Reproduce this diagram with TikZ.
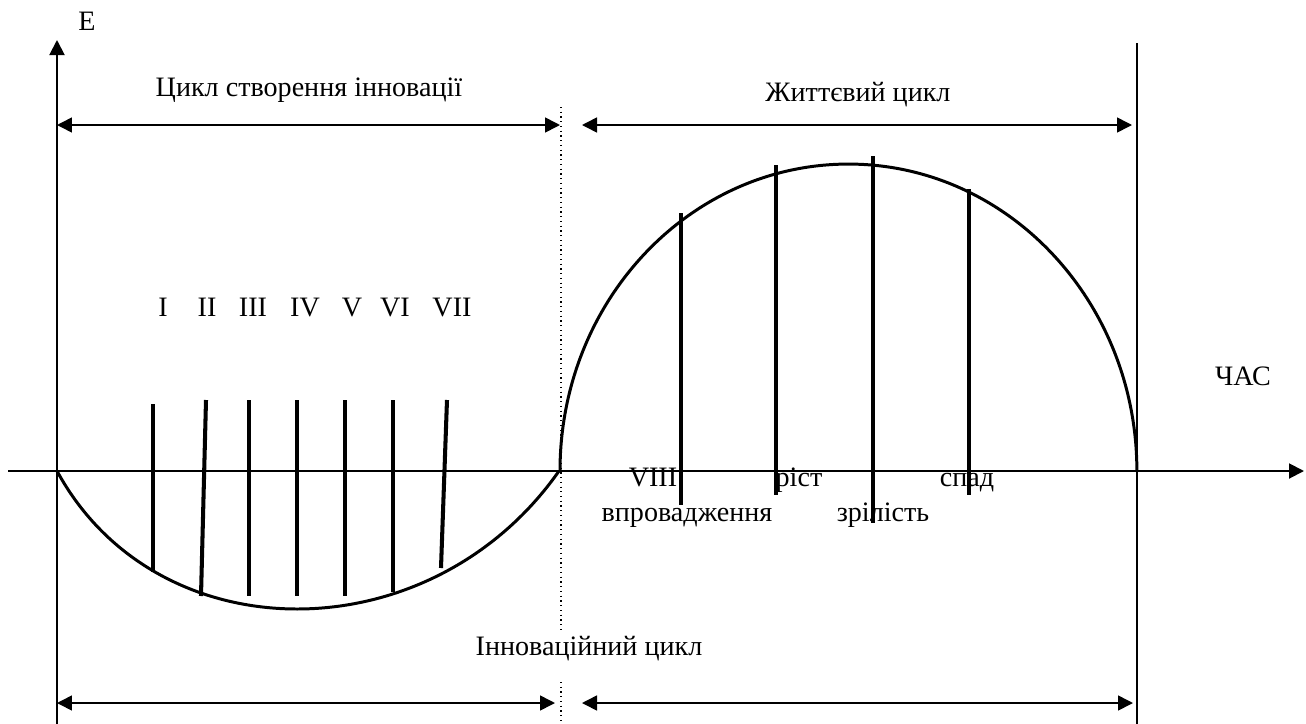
\documentclass[tikz,border=0pt]{standalone}
\usepackage{fontspec}
\setmainfont{Liberation Serif}
\usetikzlibrary{positioning,arrows.meta}

\begin{document}
\begin{tikzpicture}[
    x=0.02cm, y=-0.02cm,
    axis/.style={line width=1.1pt, -{Triangle[length=0.3cm, width=0.3cm]}},
    span/.style={line width=0.9pt, {Triangle[length=0.3cm, width=0.3cm]}-{Triangle[length=0.3cm, width=0.3cm]}},
    border/.style={line width=0.8pt},
    divider/.style={dotted, line width=0.7pt},
    stage/.style={line width=2.3pt},
    curve/.style={line width=1.7pt},
    lbl/.style={font=\fontsize{16}{19}\selectfont, inner sep=0pt, text height=1.5ex, text depth=0.25ex, yshift=-1.7pt},
]
\useasboundingbox (0,0) rectangle (1306,724);

% axes and frame
\coordinate (Ebot) at (57,724);
\coordinate (Etop) at (57,40);
\coordinate (Tleft) at (8,471);
\coordinate (Tright) at (1304,471);
\coordinate (Rtop) at (1137,43);
\coordinate (Rbot) at (1137,724);
\coordinate (Dtop) at (561,107);
\coordinate (Dmid) at (561,632);
\coordinate (Dlow) at (561,682);
\coordinate (Dbot) at (561,724);

\draw[axis] (Ebot) -- (Etop);
\draw[axis] (Tleft) -- (Tright);
\draw[border] (Rtop) -- (Rbot);
\draw[divider] (Dtop) -- (Dmid);
\draw[divider] (Dlow) -- (Dbot);

\node[lbl] (E) at (87,22) {E};
\node[lbl] (time) at (1243,377) {ЧАС};

% cycle spans
\coordinate (c1) at (57,125);
\coordinate (c2) at (560,125);
\coordinate (l1) at (582,125);
\coordinate (l2) at (1132,125);
\coordinate (i1) at (57,703);
\coordinate (i2) at (555,703);
\coordinate (i3) at (582,703);
\coordinate (i4) at (1133,703);

\draw[span] (c1) -- (c2);
\draw[span] (l1) -- (l2);
\draw[span] (i1) -- (i2);
\draw[span] (i3) -- (i4);

\node[lbl] (create) at (309,88) {Цикл створення інновації};
\node[lbl] (life) at (858,93) {Життєвий цикл};
\node[lbl] (innov) at (589,647) {Інноваційний цикл};

% creation curve
\draw[curve] (57,471) .. controls (157,655) and (430,655) .. (559,471);

\draw[stage] (153,404) -- (153,572);
\draw[stage] (206,400) -- (201,596);
\draw[stage] (249,400) -- (249,596);
\draw[stage] (297,400) -- (297,596);
\draw[stage] (345,400) -- (345,596);
\draw[stage] (393,400) -- (393,592);
\draw[stage] (447,400) -- (441,568);

\node[lbl] (s1) at (163,308) {I};
\node[lbl] (s2) at (207,308) {II};
\node[lbl] (s3) at (253,308) {III};
\node[lbl] (s4) at (305,308) {IV};
\node[lbl] (s5) at (352,308) {V};
\node[lbl] (s6) at (395,308) {VI};
\node[lbl] (s7) at (452,308) {VII};

% life curve
\draw[curve] (560,471) arc[start angle=180, end angle=0, x radius=5.77cm, y radius=6.14cm];

\draw[stage] (681,213) -- (681,505);
\draw[stage] (776,165) -- (776,495);
\draw[stage] (873,156) -- (873,523);
\draw[stage] (969,189) -- (969,495);

\node[lbl] (s8) at (653,478) {VIII};
\node[lbl] (intro) at (687,513) {впровадження};
\node[lbl] (growth) at (799,478) {ріст};
\node[lbl] (mature) at (883,513) {зрілість};
\node[lbl] (decline) at (967,478) {спад};
\end{tikzpicture}
\end{document}
